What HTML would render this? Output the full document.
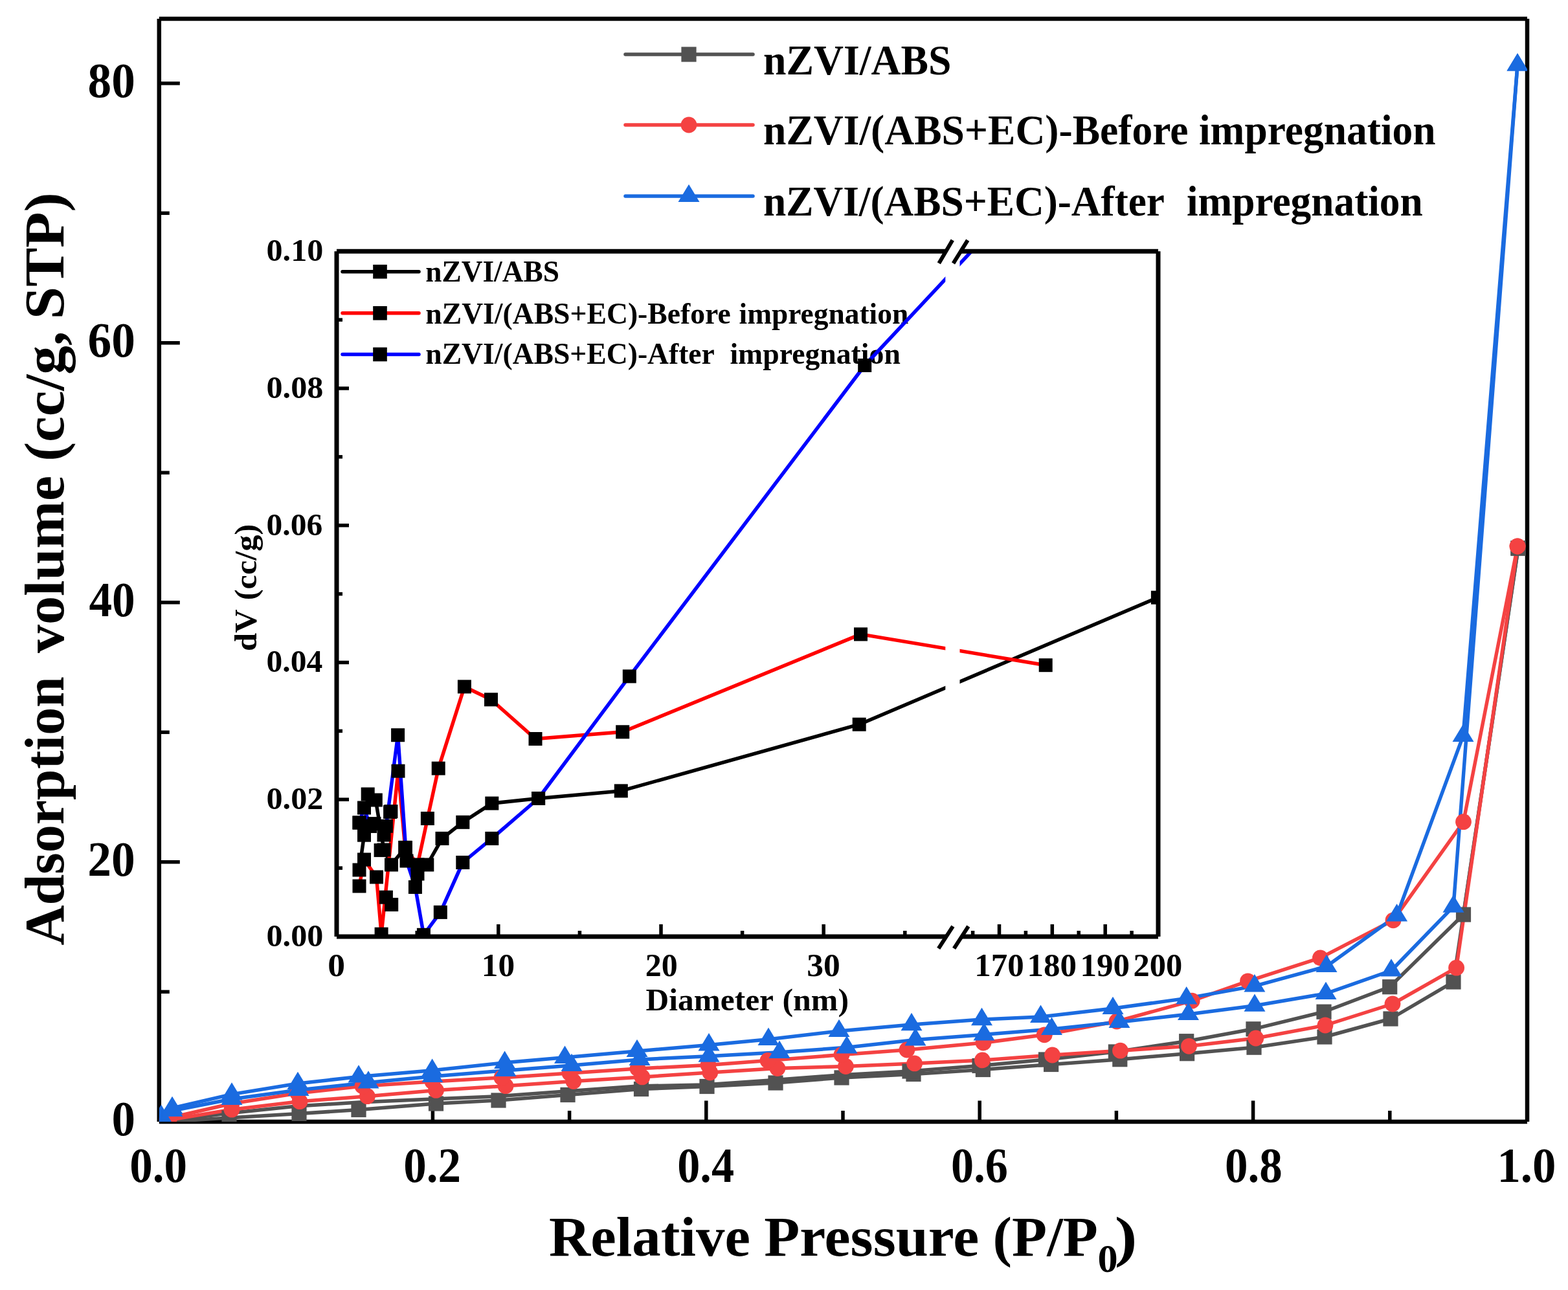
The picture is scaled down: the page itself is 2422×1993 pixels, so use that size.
<!DOCTYPE html><html><head><meta charset="utf-8"><title>Adsorption isotherms</title>
<style>html,body{margin:0;padding:0;background:#fff;overflow:hidden}svg{display:block}text{font-family:'Liberation Serif', 'Times New Roman', serif;font-weight:bold;fill:#000;white-space:pre}</style></head><body>
<svg xmlns="http://www.w3.org/2000/svg" width="2422" height="1993" viewBox="0 0 2422 1993">
<rect width="2422" height="1993" fill="#fff"/>
<defs><clipPath id="mc"><rect x="245.8" y="29" width="2113.2" height="1704"/></clipPath>
<clipPath id="ic"><path d="M520,388 H1460.3 V1447 H520 Z M1482.5,388 H1789 V1447 H1482.5 Z"/></clipPath></defs>
<g stroke="#000" stroke-width="6.5" fill="none">
<path d="M245.8,1733.0 V29.0 M245.8,29.0 H2359.0 M2359.0,29.0 V1733.0 M2359.0,1733.0 H245.8"/>
</g><g stroke="#000" stroke-width="5.5" fill="none">
<line x1="245.8" y1="1532.3" x2="261.8" y2="1532.3"/>
<line x1="245.8" y1="1331.8" x2="277.8" y2="1331.8"/>
<line x1="245.8" y1="1131.3" x2="261.8" y2="1131.3"/>
<line x1="245.8" y1="930.8" x2="277.8" y2="930.8"/>
<line x1="245.8" y1="730.3" x2="261.8" y2="730.3"/>
<line x1="245.8" y1="529.8" x2="277.8" y2="529.8"/>
<line x1="245.8" y1="329.3" x2="261.8" y2="329.3"/>
<line x1="245.8" y1="128.8" x2="277.8" y2="128.8"/>
<line x1="457.2" y1="1733" x2="457.2" y2="1716.0"/>
<line x1="668.4" y1="1733" x2="668.4" y2="1700.5"/>
<line x1="879.6" y1="1733" x2="879.6" y2="1716.0"/>
<line x1="1090.8" y1="1733" x2="1090.8" y2="1700.5"/>
<line x1="1302.0" y1="1733" x2="1302.0" y2="1716.0"/>
<line x1="1513.2" y1="1733" x2="1513.2" y2="1700.5"/>
<line x1="1724.4" y1="1733" x2="1724.4" y2="1716.0"/>
<line x1="1935.6" y1="1733" x2="1935.6" y2="1700.5"/>
<line x1="2146.8" y1="1733" x2="2146.8" y2="1716.0"/>
</g>
<g clip-path="url(#mc)">
<g fill="none" stroke-width="5.5" stroke-linejoin="round">
<polyline points="257.0,1733.0 354.0,1727.0 462.0,1720.5 554.0,1714.5 673.5,1705.0 770.0,1700.0 877.0,1691.5 990.5,1682.5 1092.0,1678.5 1198.0,1673.0 1300.0,1665.0 1411.0,1659.5 1518.4,1652.5 1623.6,1644.5 1729.8,1636.7 1833.6,1627.7 1937.0,1618.2 2046.0,1602.0 2148.0,1574.0 2245.0,1517.0 2345.0,847.0" stroke="#525252"/>
<polyline points="2345.0,847.0 2260.5,1413.0 2146.7,1524.7 2045.0,1563.2 1936.0,1589.8 1832.7,1608.7 1723.4,1625.0 1615.5,1637.0 1513.0,1646.5 1405.0,1655.0 1296.0,1661.0 1190.0,1669.0 1088.0,1676.0 985.0,1678.0 874.0,1686.0 765.0,1694.0 668.0,1698.0 555.0,1703.0 458.0,1709.0 352.0,1720.0 257.0,1732.0" stroke="#525252"/>
<polyline points="257.0,1731.0 358.0,1714.2 463.0,1701.7 567.4,1693.7 673.5,1684.4 781.0,1677.7 885.8,1670.6 991.9,1663.9 1096.8,1657.0 1200.9,1650.6 1306.4,1647.5 1412.6,1642.9 1517.4,1637.9 1625.5,1630.0 1730.5,1623.2 1836.5,1616.3 1939.8,1604.0 2047.0,1584.0 2151.0,1551.0 2249.6,1495.2 2344.0,844.0" stroke="#f44242"/>
<polyline points="2344.0,844.0 2260.5,1269.7 2152.0,1421.8 2039.4,1479.9 1927.5,1515.8 1841.2,1546.2 1725.0,1578.0 1613.2,1598.8 1519.0,1611.0 1400.9,1622.0 1300.0,1629.5 1186.0,1638.5 1094.0,1645.5 985.0,1651.0 880.0,1658.0 775.0,1665.0 668.0,1671.0 560.0,1678.0 460.0,1689.0 358.0,1705.0 262.0,1727.0" stroke="#f44242"/>
<polyline points="249.0,1725.0 266.0,1716.0 358.0,1698.0 461.0,1684.0 569.0,1672.5 668.0,1663.0 781.0,1654.0 883.0,1646.0 988.0,1637.0 1095.0,1631.7 1204.0,1625.8 1308.0,1618.3 1414.0,1606.4 1520.0,1598.4 1624.5,1589.9 1729.0,1579.0 1835.5,1567.0 1938.0,1553.7 2048.0,1535.0 2149.0,1499.5 2245.0,1400.7 2344.0,100.5" stroke="#1a6be0"/>
<polyline points="2344.0,100.5 2260.0,1137.0 2157.6,1414.5 2049.0,1493.0 1937.9,1523.4 1832.7,1542.4 1719.0,1558.0 1607.5,1570.9 1516.5,1575.1 1408.0,1583.1 1296.0,1593.0 1187.0,1605.8 1095.0,1614.4 984.0,1624.0 872.5,1633.8 779.6,1641.8 667.6,1653.8 554.0,1663.5 460.0,1674.0 358.0,1690.6 266.0,1712.0" stroke="#1a6be0"/>
</g>
<rect x="245.4" y="1721.4" width="23.2" height="23.2" fill="#525252"/>
<rect x="342.4" y="1715.4" width="23.2" height="23.2" fill="#525252"/>
<rect x="450.4" y="1708.9" width="23.2" height="23.2" fill="#525252"/>
<rect x="542.4" y="1702.9" width="23.2" height="23.2" fill="#525252"/>
<rect x="661.9" y="1693.4" width="23.2" height="23.2" fill="#525252"/>
<rect x="758.4" y="1688.4" width="23.2" height="23.2" fill="#525252"/>
<rect x="865.4" y="1679.9" width="23.2" height="23.2" fill="#525252"/>
<rect x="978.9" y="1670.9" width="23.2" height="23.2" fill="#525252"/>
<rect x="1080.4" y="1666.9" width="23.2" height="23.2" fill="#525252"/>
<rect x="1186.4" y="1661.4" width="23.2" height="23.2" fill="#525252"/>
<rect x="1288.4" y="1653.4" width="23.2" height="23.2" fill="#525252"/>
<rect x="1399.4" y="1647.9" width="23.2" height="23.2" fill="#525252"/>
<rect x="1506.8" y="1640.9" width="23.2" height="23.2" fill="#525252"/>
<rect x="1612.0" y="1632.9" width="23.2" height="23.2" fill="#525252"/>
<rect x="1718.2" y="1625.1" width="23.2" height="23.2" fill="#525252"/>
<rect x="1822.0" y="1616.1" width="23.2" height="23.2" fill="#525252"/>
<rect x="1925.4" y="1606.6" width="23.2" height="23.2" fill="#525252"/>
<rect x="2034.4" y="1590.4" width="23.2" height="23.2" fill="#525252"/>
<rect x="2136.4" y="1562.4" width="23.2" height="23.2" fill="#525252"/>
<rect x="2233.4" y="1505.4" width="23.2" height="23.2" fill="#525252"/>
<rect x="2333.4" y="835.4" width="23.2" height="23.2" fill="#525252"/>
<rect x="2333.4" y="835.4" width="23.2" height="23.2" fill="#525252"/>
<rect x="2248.9" y="1401.4" width="23.2" height="23.2" fill="#525252"/>
<rect x="2135.1" y="1513.1" width="23.2" height="23.2" fill="#525252"/>
<rect x="2033.4" y="1551.6" width="23.2" height="23.2" fill="#525252"/>
<rect x="1924.4" y="1578.2" width="23.2" height="23.2" fill="#525252"/>
<rect x="1821.1" y="1597.1" width="23.2" height="23.2" fill="#525252"/>
<rect x="1711.8" y="1613.4" width="23.2" height="23.2" fill="#525252"/>
<rect x="1603.9" y="1625.4" width="23.2" height="23.2" fill="#525252"/>
<rect x="1501.4" y="1634.9" width="23.2" height="23.2" fill="#525252"/>
<rect x="1393.4" y="1643.4" width="23.2" height="23.2" fill="#525252"/>
<circle cx="257.0" cy="1731.0" r="12.4" fill="#f44242"/>
<circle cx="358.0" cy="1714.2" r="12.4" fill="#f44242"/>
<circle cx="463.0" cy="1701.7" r="12.4" fill="#f44242"/>
<circle cx="567.4" cy="1693.7" r="12.4" fill="#f44242"/>
<circle cx="673.5" cy="1684.4" r="12.4" fill="#f44242"/>
<circle cx="781.0" cy="1677.7" r="12.4" fill="#f44242"/>
<circle cx="885.8" cy="1670.6" r="12.4" fill="#f44242"/>
<circle cx="991.9" cy="1663.9" r="12.4" fill="#f44242"/>
<circle cx="1096.8" cy="1657.0" r="12.4" fill="#f44242"/>
<circle cx="1200.9" cy="1650.6" r="12.4" fill="#f44242"/>
<circle cx="1306.4" cy="1647.5" r="12.4" fill="#f44242"/>
<circle cx="1412.6" cy="1642.9" r="12.4" fill="#f44242"/>
<circle cx="1517.4" cy="1637.9" r="12.4" fill="#f44242"/>
<circle cx="1625.5" cy="1630.0" r="12.4" fill="#f44242"/>
<circle cx="1730.5" cy="1623.2" r="12.4" fill="#f44242"/>
<circle cx="1836.5" cy="1616.3" r="12.4" fill="#f44242"/>
<circle cx="1939.8" cy="1604.0" r="12.4" fill="#f44242"/>
<circle cx="2047.0" cy="1584.0" r="12.4" fill="#f44242"/>
<circle cx="2151.0" cy="1551.0" r="12.4" fill="#f44242"/>
<circle cx="2249.6" cy="1495.2" r="12.4" fill="#f44242"/>
<circle cx="2344.0" cy="844.0" r="12.4" fill="#f44242"/>
<circle cx="2344.0" cy="844.0" r="12.4" fill="#f44242"/>
<circle cx="2260.5" cy="1269.7" r="12.4" fill="#f44242"/>
<circle cx="2152.0" cy="1421.8" r="12.4" fill="#f44242"/>
<circle cx="2039.4" cy="1479.9" r="12.4" fill="#f44242"/>
<circle cx="1927.5" cy="1515.8" r="12.4" fill="#f44242"/>
<circle cx="1841.2" cy="1546.2" r="12.4" fill="#f44242"/>
<circle cx="1725.0" cy="1578.0" r="12.4" fill="#f44242"/>
<circle cx="1613.2" cy="1598.8" r="12.4" fill="#f44242"/>
<circle cx="1519.0" cy="1611.0" r="12.4" fill="#f44242"/>
<circle cx="1400.9" cy="1622.0" r="12.4" fill="#f44242"/>
<circle cx="1300.0" cy="1629.5" r="12.4" fill="#f44242"/>
<circle cx="1186.0" cy="1638.5" r="12.4" fill="#f44242"/>
<circle cx="1094.0" cy="1645.5" r="12.4" fill="#f44242"/>
<circle cx="985.0" cy="1651.0" r="12.4" fill="#f44242"/>
<circle cx="880.0" cy="1658.0" r="12.4" fill="#f44242"/>
<circle cx="775.0" cy="1665.0" r="12.4" fill="#f44242"/>
<circle cx="668.0" cy="1671.0" r="12.4" fill="#f44242"/>
<circle cx="560.0" cy="1678.0" r="12.4" fill="#f44242"/>
<circle cx="460.0" cy="1689.0" r="12.4" fill="#f44242"/>
<circle cx="358.0" cy="1705.0" r="12.4" fill="#f44242"/>
<circle cx="262.0" cy="1727.0" r="12.4" fill="#f44242"/>
<polygon points="249.0,1706.7 232.5,1734.1 265.5,1734.1" fill="#1a6be0"/>
<polygon points="266.0,1697.7 249.5,1725.1 282.5,1725.1" fill="#1a6be0"/>
<polygon points="358.0,1679.7 341.5,1707.1 374.5,1707.1" fill="#1a6be0"/>
<polygon points="461.0,1665.7 444.5,1693.1 477.5,1693.1" fill="#1a6be0"/>
<polygon points="569.0,1654.2 552.5,1681.6 585.5,1681.6" fill="#1a6be0"/>
<polygon points="668.0,1644.7 651.5,1672.1 684.5,1672.1" fill="#1a6be0"/>
<polygon points="781.0,1635.7 764.5,1663.1 797.5,1663.1" fill="#1a6be0"/>
<polygon points="883.0,1627.7 866.5,1655.1 899.5,1655.1" fill="#1a6be0"/>
<polygon points="988.0,1618.7 971.5,1646.1 1004.5,1646.1" fill="#1a6be0"/>
<polygon points="1095.0,1613.4 1078.5,1640.8 1111.5,1640.8" fill="#1a6be0"/>
<polygon points="1204.0,1607.5 1187.5,1634.9 1220.5,1634.9" fill="#1a6be0"/>
<polygon points="1308.0,1600.0 1291.5,1627.4 1324.5,1627.4" fill="#1a6be0"/>
<polygon points="1414.0,1588.1 1397.5,1615.5 1430.5,1615.5" fill="#1a6be0"/>
<polygon points="1520.0,1580.1 1503.5,1607.5 1536.5,1607.5" fill="#1a6be0"/>
<polygon points="1624.5,1571.6 1608.0,1599.0 1641.0,1599.0" fill="#1a6be0"/>
<polygon points="1729.0,1560.7 1712.5,1588.1 1745.5,1588.1" fill="#1a6be0"/>
<polygon points="1835.5,1548.7 1819.0,1576.1 1852.0,1576.1" fill="#1a6be0"/>
<polygon points="1938.0,1535.4 1921.5,1562.8 1954.5,1562.8" fill="#1a6be0"/>
<polygon points="2048.0,1516.7 2031.5,1544.1 2064.5,1544.1" fill="#1a6be0"/>
<polygon points="2149.0,1481.2 2132.5,1508.6 2165.5,1508.6" fill="#1a6be0"/>
<polygon points="2245.0,1382.4 2228.5,1409.8 2261.5,1409.8" fill="#1a6be0"/>
<polygon points="2344.0,82.2 2327.5,109.6 2360.5,109.6" fill="#1a6be0"/>
<polygon points="2344.0,82.2 2327.5,109.6 2360.5,109.6" fill="#1a6be0"/>
<polygon points="2260.0,1118.7 2243.5,1146.1 2276.5,1146.1" fill="#1a6be0"/>
<polygon points="2157.6,1396.2 2141.1,1423.6 2174.1,1423.6" fill="#1a6be0"/>
<polygon points="2049.0,1474.7 2032.5,1502.1 2065.5,1502.1" fill="#1a6be0"/>
<polygon points="1937.9,1505.1 1921.4,1532.5 1954.4,1532.5" fill="#1a6be0"/>
<polygon points="1832.7,1524.1 1816.2,1551.5 1849.2,1551.5" fill="#1a6be0"/>
<polygon points="1719.0,1539.7 1702.5,1567.1 1735.5,1567.1" fill="#1a6be0"/>
<polygon points="1607.5,1552.6 1591.0,1580.0 1624.0,1580.0" fill="#1a6be0"/>
<polygon points="1516.5,1556.8 1500.0,1584.2 1533.0,1584.2" fill="#1a6be0"/>
<polygon points="1408.0,1564.8 1391.5,1592.2 1424.5,1592.2" fill="#1a6be0"/>
<polygon points="1296.0,1574.7 1279.5,1602.1 1312.5,1602.1" fill="#1a6be0"/>
<polygon points="1187.0,1587.5 1170.5,1614.9 1203.5,1614.9" fill="#1a6be0"/>
<polygon points="1095.0,1596.1 1078.5,1623.5 1111.5,1623.5" fill="#1a6be0"/>
<polygon points="984.0,1605.7 967.5,1633.1 1000.5,1633.1" fill="#1a6be0"/>
<polygon points="872.5,1615.5 856.0,1642.9 889.0,1642.9" fill="#1a6be0"/>
<polygon points="779.6,1623.5 763.1,1650.9 796.1,1650.9" fill="#1a6be0"/>
<polygon points="667.6,1635.5 651.1,1662.9 684.1,1662.9" fill="#1a6be0"/>
<polygon points="554.0,1645.2 537.5,1672.6 570.5,1672.6" fill="#1a6be0"/>
<polygon points="460.0,1655.7 443.5,1683.1 476.5,1683.1" fill="#1a6be0"/>
<polygon points="358.0,1672.3 341.5,1699.7 374.5,1699.7" fill="#1a6be0"/>
<polygon points="266.0,1693.7 249.5,1721.1 282.5,1721.1" fill="#1a6be0"/>
</g>
<line x1="966" y1="84" x2="1163" y2="84" stroke="#525252" stroke-width="5.5" stroke-linecap="round"/>
<rect x="1052.4" y="72.4" width="23.2" height="23.2" fill="#525252"/>
<line x1="966" y1="193" x2="1163" y2="193" stroke="#f44242" stroke-width="5.5" stroke-linecap="round"/>
<circle cx="1064.0" cy="193.0" r="12.4" fill="#f44242"/>
<line x1="966" y1="303" x2="1163" y2="303" stroke="#1a6be0" stroke-width="5.5" stroke-linecap="round"/>
<polygon points="1064.0,284.7 1047.5,312.1 1080.5,312.1" fill="#1a6be0"/>
<line x1="529" y1="419.7" x2="647" y2="419.7" stroke="#000" stroke-width="5.5" stroke-linecap="round"/>
<rect x="576.2" y="408.9" width="21.6" height="21.6" fill="#000"/>
<line x1="529" y1="483.8" x2="647" y2="483.8" stroke="#ff0000" stroke-width="5.5" stroke-linecap="round"/>
<rect x="576.2" y="473.0" width="21.6" height="21.6" fill="#000"/>
<line x1="529" y1="547.5" x2="647" y2="547.5" stroke="#0000ff" stroke-width="5.5" stroke-linecap="round"/>
<rect x="576.2" y="536.7" width="21.6" height="21.6" fill="#000"/>
<text transform="matrix(0.9719,0,0,1.0204,172.48,1754.40)" font-size="75.00">0</text>
<text transform="matrix(0.9797,0,0,1.0204,135.36,1353.40)" font-size="75.00">20</text>
<text transform="matrix(0.9507,0,0,1.0204,137.45,952.40)" font-size="75.00">40</text>
<text transform="matrix(0.9783,0,0,1.0204,135.47,551.40)" font-size="75.00">60</text>
<text transform="matrix(0.9768,0,0,1.0204,135.57,150.40)" font-size="75.00">80</text>
<text transform="matrix(0.9477,0,0,1.0265,200.26,1826.10)" font-size="75.00">0.0</text>
<text transform="matrix(0.9477,0,0,1.0265,623.20,1826.10)" font-size="75.00">0.2</text>
<text transform="matrix(0.9371,0,0,1.0265,1046.17,1826.10)" font-size="75.00">0.4</text>
<text transform="matrix(0.9371,0,0,1.0265,1469.11,1826.10)" font-size="75.00">0.6</text>
<text transform="matrix(0.9477,0,0,1.0265,1892.02,1826.10)" font-size="75.00">0.8</text>
<text transform="matrix(0.9706,0,0,1.0265,2312.43,1826.10)" font-size="75.00">1.0</text>
<text transform="matrix(1.0152,0,0,1.0000,848.07,1940.00)" font-size="87.50">Relative</text>
<text transform="matrix(1.0296,0,0,1.0000,1180.24,1940.00)" font-size="87.50">Pressure</text>
<text transform="matrix(1.0123,0,0,1.0000,1533.55,1940.00)" font-size="87.50">(P/P</text>
<text transform="matrix(1.0385,0,0,1.0385,1695.42,1965.00)" font-size="60.00">0</text>
<text transform="matrix(1.1909,0,0,1.0000,1721.73,1940.00)" font-size="87.50">)</text>
<text transform="matrix(0,-0.9824,1,0,98.30,1460.58)" font-size="87.50">Adsorption</text>
<text transform="matrix(0,-1.0074,1,0,98.30,1009.10)" font-size="87.50">volume</text>
<text transform="matrix(0,-1.0222,1,0,98.30,712.79)" font-size="87.50">(cc/g,</text>
<text transform="matrix(0,-1.0337,1,0,98.30,493.37)" font-size="87.50">STP)</text>
<text transform="matrix(0.9652,0,0,1.0000,1179.07,114.60)" font-size="66.00">nZVI/ABS</text>
<text transform="matrix(0.9630,0,0,1.0000,1179.07,223.30)" font-size="66.00">nZVI/(ABS+EC)-Before</text>
<text transform="matrix(0.9622,0,0,1.0000,1851.94,223.30)" font-size="66.00">impregnation</text>
<text transform="matrix(0.9594,0,0,1.0000,1179.08,332.90)" font-size="66.00">nZVI/(ABS+EC)-After</text>
<text transform="matrix(0.9598,0,0,1.0000,1832.94,332.90)" font-size="66.00">impregnation</text>
<text transform="matrix(1.0346,0,0,1.0094,411.53,1461.90)" font-size="48.50">0.00</text>
<text transform="matrix(1.0346,0,0,1.0094,411.53,1250.14)" font-size="48.50">0.02</text>
<text transform="matrix(1.0220,0,0,1.0094,411.56,1038.38)" font-size="48.50">0.04</text>
<text transform="matrix(1.0220,0,0,1.0094,411.56,826.62)" font-size="48.50">0.06</text>
<text transform="matrix(1.0346,0,0,1.0094,411.53,614.86)" font-size="48.50">0.08</text>
<text transform="matrix(1.0346,0,0,1.0094,411.53,403.10)" font-size="48.50">0.10</text>
<text transform="matrix(1.1050,0,0,1.0250,506.29,1508.00)" font-size="48.50">0</text>
<text transform="matrix(1.0581,0,0,1.0250,743.87,1508.00)" font-size="48.50">10</text>
<text transform="matrix(1.0311,0,0,1.0250,996.84,1508.00)" font-size="48.50">20</text>
<text transform="matrix(1.0622,0,0,1.0250,1246.28,1508.00)" font-size="48.50">30</text>
<text transform="matrix(1.0507,0,0,1.0250,1505.20,1508.00)" font-size="48.50">170</text>
<text transform="matrix(1.0507,0,0,1.0250,1586.50,1508.00)" font-size="48.50">180</text>
<text transform="matrix(1.0507,0,0,1.0250,1668.60,1508.00)" font-size="48.50">190</text>
<text transform="matrix(1.0420,0,0,1.0250,1750.52,1508.00)" font-size="48.50">200</text>
<text transform="matrix(1.0182,0,0,1.0000,997.58,1561.40)" font-size="48.50">Diameter</text>
<text transform="matrix(1.0295,0,0,1.0000,1208.44,1561.40)" font-size="48.50">(nm)</text>
<text transform="matrix(0,-1.0407,1,0,395.90,1005.88)" font-size="48.50">dV</text>
<text transform="matrix(0,-1.0394,1,0,395.90,927.18)" font-size="48.50">(cc/g)</text>
<text transform="matrix(0.9855,0,0,1.0000,657.31,434.80)" font-size="46.00">nZVI/ABS</text>
<text transform="matrix(0.9922,0,0,1.0000,657.31,499.50)" font-size="46.00">nZVI/(ABS+EC)-Before</text>
<text transform="matrix(0.9878,0,0,1.0000,1141.51,499.50)" font-size="46.00">impregnation</text>
<text transform="matrix(0.9917,0,0,1.0000,657.31,561.70)" font-size="46.00">nZVI/(ABS+EC)-After</text>
<text transform="matrix(0.9947,0,0,1.0000,1127.41,561.70)" font-size="46.00">impregnation</text>
<g clip-path="url(#ic)">
<g fill="none" stroke-width="5.5" stroke-linejoin="round">
<polyline points="555.0,1344.0 562.5,1290.0 568.2,1227.0 580.3,1236.0 593.0,1313.0 604.5,1336.0 626.0,1309.4 645.0,1350.0 659.8,1336.0 683.0,1295.4 714.8,1270.3 759.8,1241.1 831.6,1233.5 959.3,1221.9 1327.2,1119.2 1788.4,923.2" stroke="#000"/>
<polyline points="555.0,1369.0 562.5,1328.0 581.5,1355.0 589.1,1443.2 615.0,1191.2 625.8,1309.4 645.0,1336.0 660.4,1264.5 677.2,1187.1 717.4,1060.9 758.5,1080.8 827.0,1141.5 961.7,1130.8 1329.5,979.9 1615.2,1027.7" stroke="#ff0000"/>
<polyline points="555.0,1271.0 562.5,1248.0 571.5,1276.3 596.4,1276.3 614.6,1135.7 628.0,1330.0 641.4,1370.5 654.4,1444.3 680.3,1409.4 714.8,1332.5 759.8,1295.4 831.6,1233.5 972.3,1044.9 1335.7,564.5 1700.0,175.0" stroke="#0000ff"/>
</g>
<rect x="544.5" y="1333.5" width="21.0" height="21.0" fill="#000"/>
<rect x="552.0" y="1279.5" width="21.0" height="21.0" fill="#000"/>
<rect x="557.7" y="1216.5" width="21.0" height="21.0" fill="#000"/>
<rect x="569.8" y="1225.5" width="21.0" height="21.0" fill="#000"/>
<rect x="582.5" y="1302.5" width="21.0" height="21.0" fill="#000"/>
<rect x="594.0" y="1325.5" width="21.0" height="21.0" fill="#000"/>
<rect x="615.5" y="1298.9" width="21.0" height="21.0" fill="#000"/>
<rect x="634.5" y="1339.5" width="21.0" height="21.0" fill="#000"/>
<rect x="649.3" y="1325.5" width="21.0" height="21.0" fill="#000"/>
<rect x="672.5" y="1284.9" width="21.0" height="21.0" fill="#000"/>
<rect x="704.3" y="1259.8" width="21.0" height="21.0" fill="#000"/>
<rect x="749.3" y="1230.6" width="21.0" height="21.0" fill="#000"/>
<rect x="821.1" y="1223.0" width="21.0" height="21.0" fill="#000"/>
<rect x="948.8" y="1211.4" width="21.0" height="21.0" fill="#000"/>
<rect x="1316.7" y="1108.7" width="21.0" height="21.0" fill="#000"/>
<rect x="1777.9" y="912.7" width="21.0" height="21.0" fill="#000"/>
<rect x="544.5" y="1358.5" width="21.0" height="21.0" fill="#000"/>
<rect x="552.0" y="1317.5" width="21.0" height="21.0" fill="#000"/>
<rect x="571.0" y="1344.5" width="21.0" height="21.0" fill="#000"/>
<rect x="578.6" y="1432.7" width="21.0" height="21.0" fill="#000"/>
<rect x="604.5" y="1180.7" width="21.0" height="21.0" fill="#000"/>
<rect x="615.3" y="1298.9" width="21.0" height="21.0" fill="#000"/>
<rect x="634.5" y="1325.5" width="21.0" height="21.0" fill="#000"/>
<rect x="649.9" y="1254.0" width="21.0" height="21.0" fill="#000"/>
<rect x="666.7" y="1176.6" width="21.0" height="21.0" fill="#000"/>
<rect x="706.9" y="1050.4" width="21.0" height="21.0" fill="#000"/>
<rect x="748.0" y="1070.3" width="21.0" height="21.0" fill="#000"/>
<rect x="816.5" y="1131.0" width="21.0" height="21.0" fill="#000"/>
<rect x="951.2" y="1120.3" width="21.0" height="21.0" fill="#000"/>
<rect x="1319.0" y="969.4" width="21.0" height="21.0" fill="#000"/>
<rect x="1604.7" y="1017.2" width="21.0" height="21.0" fill="#000"/>
<rect x="544.5" y="1260.5" width="21.0" height="21.0" fill="#000"/>
<rect x="552.0" y="1237.5" width="21.0" height="21.0" fill="#000"/>
<rect x="561.0" y="1265.8" width="21.0" height="21.0" fill="#000"/>
<rect x="585.9" y="1265.8" width="21.0" height="21.0" fill="#000"/>
<rect x="604.1" y="1125.2" width="21.0" height="21.0" fill="#000"/>
<rect x="617.5" y="1319.5" width="21.0" height="21.0" fill="#000"/>
<rect x="630.9" y="1360.0" width="21.0" height="21.0" fill="#000"/>
<rect x="643.9" y="1433.8" width="21.0" height="21.0" fill="#000"/>
<rect x="669.8" y="1398.9" width="21.0" height="21.0" fill="#000"/>
<rect x="704.3" y="1322.0" width="21.0" height="21.0" fill="#000"/>
<rect x="749.3" y="1284.9" width="21.0" height="21.0" fill="#000"/>
<rect x="821.1" y="1223.0" width="21.0" height="21.0" fill="#000"/>
<rect x="961.8" y="1034.4" width="21.0" height="21.0" fill="#000"/>
<rect x="1325.2" y="554.0" width="21.0" height="21.0" fill="#000"/>
<rect x="592.1" y="1244.0" width="21.0" height="21.0" fill="#000"/>
<rect x="577.6" y="1303.1" width="21.0" height="21.0" fill="#000"/>
<rect x="594.2" y="1387.1" width="21.0" height="21.0" fill="#000"/>
<rect x="585.9" y="1375.7" width="21.0" height="21.0" fill="#000"/>
<rect x="544.5" y="1260.5" width="21.0" height="21.0" fill="#000"/>
<rect x="561.0" y="1265.8" width="21.0" height="21.0" fill="#000"/>
<rect x="615.9" y="1299.0" width="21.0" height="21.0" fill="#000"/>
<rect x="593.4" y="1243.1" width="21.0" height="21.0" fill="#000"/>
<rect x="567.5" y="1262.1" width="21.0" height="21.0" fill="#000"/>
<rect x="552.0" y="1279.4" width="21.0" height="21.0" fill="#000"/>
<rect x="582.5" y="1279.5" width="21.0" height="21.0" fill="#000"/>
</g>
<g stroke="#000" stroke-width="7" fill="none">
<path d="M520,1447.0 V388.2 M520,388.2 H1461.4 M1484.2,388.2 H1789 M1789,388.2 V1447.0 M1789,1447.0 H1485.5 M1461.6,1447.0 H520"/>
</g><g stroke="#000" stroke-width="5.5" fill="none">
<line x1="520" y1="1341.1" x2="529" y2="1341.1"/>
<line x1="520" y1="1235.2" x2="539" y2="1235.2"/>
<line x1="520" y1="1129.4" x2="529" y2="1129.4"/>
<line x1="520" y1="1023.5" x2="539" y2="1023.5"/>
<line x1="520" y1="917.6" x2="529" y2="917.6"/>
<line x1="520" y1="811.7" x2="539" y2="811.7"/>
<line x1="520" y1="705.8" x2="529" y2="705.8"/>
<line x1="520" y1="600.0" x2="539" y2="600.0"/>
<line x1="520" y1="494.1" x2="529" y2="494.1"/>
<line x1="644.2" y1="1447" x2="644.2" y2="1438"/>
<line x1="769.8" y1="1447" x2="769.8" y2="1428"/>
<line x1="895.4" y1="1447" x2="895.4" y2="1438"/>
<line x1="1021.0" y1="1447" x2="1021.0" y2="1428"/>
<line x1="1146.6" y1="1447" x2="1146.6" y2="1438"/>
<line x1="1272.2" y1="1447" x2="1272.2" y2="1428"/>
<line x1="1397.8" y1="1447" x2="1397.8" y2="1438"/>
<line x1="1502.6" y1="1447" x2="1502.6" y2="1438"/>
<line x1="1543.5" y1="1447" x2="1543.5" y2="1428"/>
<line x1="1584.4" y1="1447" x2="1584.4" y2="1438"/>
<line x1="1625.3" y1="1447" x2="1625.3" y2="1428"/>
<line x1="1666.2" y1="1447" x2="1666.2" y2="1438"/>
<line x1="1707.2" y1="1447" x2="1707.2" y2="1428"/>
<line x1="1748.1" y1="1447" x2="1748.1" y2="1438"/>
</g>
<g stroke="#000" stroke-width="6">
<line x1="1450.3" y1="406.8" x2="1471.3" y2="371.1"/>
<line x1="1472.5" y1="406.8" x2="1494.7" y2="371.1"/>
<line x1="1449.7" y1="1465.3" x2="1471.9" y2="1431.2"/>
<line x1="1473.6" y1="1465.3" x2="1495.8" y2="1431.2"/>
</g>
</svg></body></html>
